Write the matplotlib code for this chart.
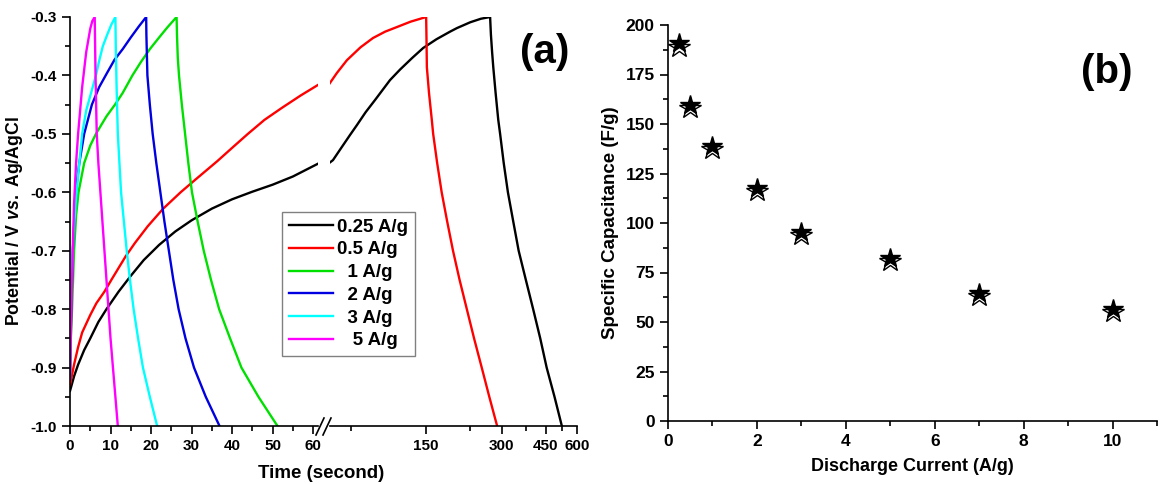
import numpy as np
import matplotlib
matplotlib.use("Agg")
import matplotlib.pyplot as plt
from matplotlib.ticker import FixedLocator, FixedFormatter, NullFormatter, MultipleLocator, FormatStrFormatter

plt.rcParams['font.family'] = ['Liberation Sans', 'DejaVu Sans']
plt.rcParams['font.weight'] = 'bold'
plt.rcParams['axes.unicode_minus'] = False
plt.rcParams['mathtext.fontset'] = 'custom'
plt.rcParams['mathtext.rm'] = 'Liberation Sans:bold'
plt.rcParams['mathtext.it'] = 'Liberation Sans:bold:italic'

# ---- (a) galvanostatic charge/discharge curves ----
labels = ["0.25 A/g", "0.5 A/g", "  1 A/g", "  2 A/g", "  3 A/g", "   5 A/g"]
colors = ["black", "red", "#00e000", "#0000e0", "cyan", "magenta"]

t_025 = [0, 1, 2, 3.5, 5, 7, 9, 12, 15, 18.2, 22, 26, 30, 35, 40, 45, 50, 55, 61.5,
         63.7, 69, 74.5, 79.4, 86, 93.8, 107.6, 118, 132, 146, 165, 187, 199, 225, 248, 270,
         272, 275, 278, 284, 291, 296, 306, 318, 334, 351, 375, 401, 428, 454, 488, 522]
v_025 = [-0.94, -0.915, -0.895, -0.87, -0.85, -0.822, -0.8, -0.77, -0.743, -0.716, -0.69,
         -0.667, -0.648, -0.628, -0.612, -0.599, -0.587, -0.573, -0.55,
         -0.545, -0.523, -0.502, -0.485, -0.463, -0.442, -0.408, -0.39, -0.37, -0.353, -0.338,
         -0.325, -0.319, -0.309, -0.303, -0.3,
         -0.33, -0.36, -0.386, -0.43, -0.476, -0.5, -0.55, -0.6, -0.65, -0.7, -0.75, -0.8,
         -0.85, -0.9, -0.95, -1.0]

t_05 = [0, 1, 2, 3, 5, 6.5, 8.5, 10.2, 13.7, 16, 19.2, 23, 27.3, 31, 36.3, 40, 43.9, 48, 52.4, 57, 61.5,
        66, 72.4, 82, 92, 103, 115, 130, 150,
        150.4, 151, 154, 158, 160, 166, 173, 182, 192, 204, 218, 233, 250, 268, 288]
v_05 = [-0.93, -0.895, -0.865, -0.84, -0.81, -0.79, -0.77, -0.75, -0.71, -0.687, -0.658, -0.628,
        -0.6, -0.578, -0.547, -0.524, -0.5, -0.476, -0.455, -0.434, -0.415,
        -0.396, -0.374, -0.352, -0.336, -0.325, -0.317, -0.308, -0.3,
        -0.33, -0.386, -0.43, -0.476, -0.5, -0.55, -0.6, -0.65, -0.7, -0.75, -0.8, -0.85,
        -0.9, -0.95, -1.0]

t_1 = [0, 0.2, 0.5, 1, 1.5, 2.1, 3.5, 5, 6.4, 9, 11.1, 13, 15.4, 17.5, 19.7, 22, 24, 26.3,
       26.4, 26.6, 26.9, 27.6, 28.4, 29.2, 30.1, 31.5, 33, 34.8, 36.8, 39.5, 42.3, 46.5, 51.2]
v_1 = [-0.92, -0.85, -0.8, -0.7, -0.64, -0.6, -0.55, -0.52, -0.5, -0.47, -0.45, -0.43, -0.4,
       -0.377, -0.355, -0.335, -0.318, -0.3,
       -0.33, -0.37, -0.4, -0.45, -0.5, -0.55, -0.6, -0.65, -0.7, -0.75, -0.8, -0.85, -0.9,
       -0.95, -1.0]

t_2 = [0, 0.15, 0.3, 0.7, 1.4, 2.3, 3.5, 5.4, 7.2, 9.2, 11, 13, 15, 17, 18.8,
       18.85, 19.1, 19.7, 20.4, 21.3, 22.3, 23.3, 24.4, 25.5, 26.8, 28.5, 30.6, 33.5, 36.9]
v_2 = [-0.92, -0.85, -0.8, -0.7, -0.6, -0.55, -0.5, -0.45, -0.42, -0.395, -0.373, -0.355,
       -0.335, -0.316, -0.3,
       -0.33, -0.4, -0.45, -0.5, -0.55, -0.6, -0.65, -0.7, -0.75, -0.8, -0.85, -0.9, -0.95, -1.0]

t_3 = [0, 0.2, 0.4, 0.9, 1.6, 2.3, 3, 4, 5.2, 6.4, 7.2, 8.1, 9.2, 10.2, 11.2,
       11.3, 11.5, 11.8, 12.2, 12.6, 13.3, 14, 14.8, 15.7, 16.8, 18, 19.7, 21.5]
v_3 = [-0.91, -0.8, -0.75, -0.67, -0.6, -0.55, -0.5, -0.46, -0.43, -0.4, -0.375, -0.35, -0.33,
       -0.313, -0.3,
       -0.35, -0.42, -0.5, -0.55, -0.6, -0.65, -0.7, -0.75, -0.8, -0.85, -0.9, -0.95, -1.0]

t_5 = [0, 0.2, 0.5, 0.75, 1, 1.5, 2, 2.5, 3, 3.5, 4, 4.5, 5, 5.5, 6.1,
       6.3, 6.6, 7, 7.5, 8, 8.5, 9, 9.5, 10, 10.6, 11.2, 11.8]
v_5 = [-0.92, -0.85, -0.75, -0.68, -0.62, -0.55, -0.5, -0.46, -0.42, -0.39, -0.36, -0.34,
       -0.32, -0.307, -0.3,
       -0.4, -0.5, -0.55, -0.6, -0.65, -0.7, -0.75, -0.8, -0.85, -0.9, -0.95, -1.0]

series_t = [t_025, t_05, t_1, t_2, t_3, t_5]
series_v = [v_025, v_05, v_1, v_2, v_3, v_5]

# ---- (b) specific capacitance ----
current = [0.25, 0.5, 1, 2, 3, 5, 7, 10]
cap_filled = [190.7, 159.6, 139.0, 117.9, 95.5, 82.4, 64.7, 56.8]
cap_open = [189.0, 158.0, 137.5, 116.3, 94.0, 80.8, 63.0, 55.2]

W, H = 1166, 484
fig = plt.figure(figsize=(W / 100, H / 100), dpi=100)

bot = 1 - 426 / H
hgt = (426 - 17) / H
ax1 = fig.add_axes([70 / W, bot, (318 - 70) / W, hgt])
ax2 = fig.add_axes([330 / W, bot, (577 - 330) / W, hgt])
ax3 = fig.add_axes([668 / W, 1 - 421 / H, (1157 - 668) / W, (421 - 25) / H])

for t, v, c, lab in zip(series_t, series_v, colors, labels):
    t = np.array(t)
    v = np.array(v)
    ax1.plot(t, v, color=c, lw=1.7, label=lab, solid_joinstyle='round')
    m = t > 30
    ax2.plot(t[m], v[m], color=c, lw=1.7, solid_joinstyle='round')

for ax in (ax1, ax2, ax3):
    ax.spines['top'].set_visible(False)
    ax.spines['right'].set_visible(False)
    for s in ax.spines.values():
        s.set_linewidth(1.2)
    ax.tick_params(which='major', direction='out', length=6, width=1.2, labelsize=11)
    ax.tick_params(which='minor', direction='out', length=3.5, width=1.2)

ax1.set_xlim(0, 61.2)
ax1.set_ylim(-1.0, -0.3)
ax1.xaxis.set_major_locator(MultipleLocator(10))
ax1.xaxis.set_minor_locator(MultipleLocator(5))
ax1.yaxis.set_major_locator(MultipleLocator(0.1))
ax1.yaxis.set_minor_locator(MultipleLocator(0.05))
ax1.yaxis.set_major_formatter(FormatStrFormatter('%.1f'))
ax1.set_ylabel(r"Potential / V $\mathit{vs.}$ Ag/AgCl", fontsize=12.8, fontweight='bold', labelpad=4)

ax2.set_xscale('log')
ax2.set_xlim(62, 600)
ax2.set_ylim(-1.0, -0.3)
ax2.spines['left'].set_visible(False)
ax2.set_yticks([])
ax2.xaxis.set_major_locator(FixedLocator([150, 300, 450, 600]))
ax2.xaxis.set_minor_locator(FixedLocator([75, 225, 375, 525]))
ax2.xaxis.set_major_formatter(FixedFormatter(["150", "300", "450", "600"]))
ax2.xaxis.set_minor_formatter(NullFormatter())
ax2.patch.set_alpha(0)

# axis break marks
for dx in (0, 7):
    fig.add_artist(plt.Line2D([(316 + dx) / W, (324 + dx) / W], [1 - 435 / H, 1 - 418 / H],
                              color='black', lw=1.2))

fig.text(321 / W, 1 - 474 / H, "Time (second)", ha='center', va='center', fontsize=13.5, fontweight='bold')
fig.text(545 / W, 1 - 52 / H, "(a)", ha='center', va='center', fontsize=29, fontweight='bold')

leg = ax1.legend(loc='upper left', bbox_to_anchor=(282 / W, 1 - 212 / H),
                 bbox_transform=fig.transFigure, fancybox=False, framealpha=1,
                 edgecolor='#808080', prop={'weight': 'bold', 'size': 13.5},
                 handlelength=2.35, handletextpad=0.25, labelspacing=0.3, borderpad=0.35,
                 borderaxespad=0)
leg.get_frame().set_linewidth(1.0)

ax3.plot(current, cap_open, linestyle='none', marker='*', ms=16, mfc='white', mec='black', mew=1.0)
ax3.plot(current, cap_filled, linestyle='none', marker='*', ms=15, mfc='black', mec='black')
ax3.set_xlim(0, 11)
ax3.set_ylim(0, 200)
ax3.xaxis.set_major_locator(MultipleLocator(2))
ax3.xaxis.set_minor_locator(MultipleLocator(1))
ax3.yaxis.set_major_locator(MultipleLocator(25))
ax3.yaxis.set_minor_locator(MultipleLocator(12.5))
ax3.tick_params(labelsize=12.5)
ax3.set_xlabel("Discharge Current (A/g)", fontsize=13, fontweight='bold', labelpad=6)
ax3.set_ylabel("Specific Capacitance (F/g)", fontsize=13.5, fontweight='bold', labelpad=5)
fig.text(1107 / W, 1 - 72 / H, "(b)", ha='center', va='center', fontsize=29, fontweight='bold')

fig.savefig("out.png", dpi=100)
